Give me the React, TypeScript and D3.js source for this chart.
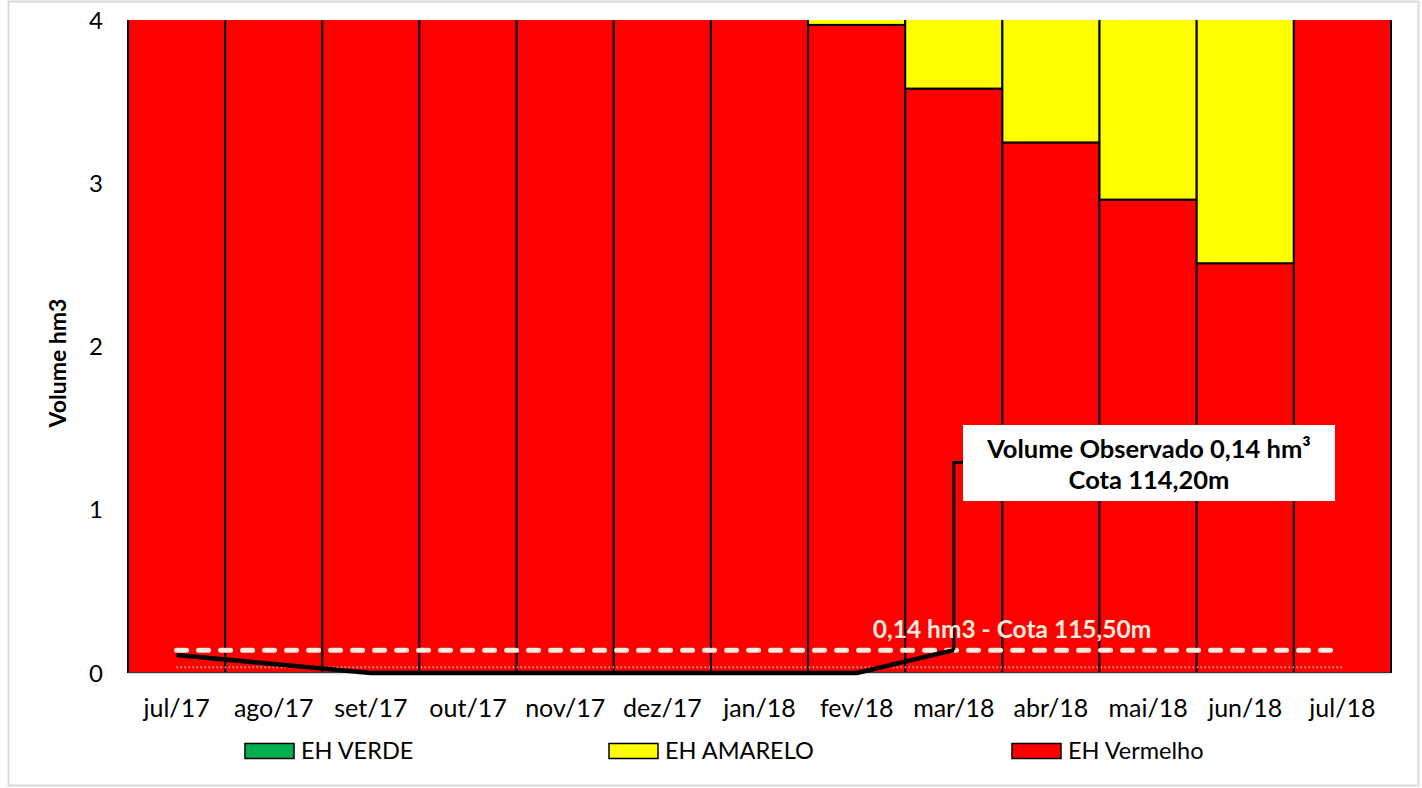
import React from "react";
import * as d3 from "d3";

const categories = ["jul/17","ago/17","set/17","out/17","nov/17","dez/17","jan/18","fev/18","mar/18","abr/18","mai/18","jun/18","jul/18"];
const ehVerde = [0,0,0,0,0,0,0,0,0,0,0,0,0];
const ehVermelho = [4.6,4.6,4.6,4.6,4.6,4.6,4.6,3.97,3.58,3.25,2.9,2.51,4.6];
const ehAmarelo = [0,0,0,0,0,0,0,0.6,1.0,1.35,1.7,2.1,0];
const volumeObservado = [0.11,0.055,0,0,0,0,0,0,0.14];
const volumeReferencia = 0.14;
const volumeMinimo = 0.035;
const yTicks = [0,1,2,3,4];
const legendItems = ["EH VERDE","EH AMARELO","EH Vermelho"];
const annotationValue = 1.29;

const FONT = "Lato, 'Open Sans', sans-serif";

export default function App() {
  const W = 1422, H = 788;
  const left = 128, right = 1391, top = 20, bottom = 673;
  const x = d3.scaleBand<string>().domain(categories).range([left, right]).padding(0);
  const y = d3.scaleLinear().domain([0, 4]).range([bottom, top]);
  const cx = (i: number) => (x(categories[i]) as number) + x.bandwidth() / 2;

  const stacks = categories.map((c, i) => {
    const segs: { y0: number; y1: number; color: string }[] = [];
    let acc = 0;
    const add = (v: number, color: string) => {
      if (v > 0) segs.push({ y0: acc, y1: acc + v, color });
      acc += v;
    };
    add(ehVermelho[i], "#FF0000");
    add(ehAmarelo[i], "#FFFF00");
    add(ehVerde[i], "#00B050");
    return segs;
  });

  const line = d3.line<number>().x((_, i) => cx(i)).y((d) => y(d));
  const first = cx(0), last = cx(categories.length - 1);
  const mi = volumeObservado.length - 1;
  const legendColors = ["#00B050", "#FFFF00", "#FF0000"];
  const legendX = [245, 609, 1012];

  return (
    <svg width={W} height={H} style={{ position: "absolute", left: 0, top: 0, background: "#fff" }} fontFamily={FONT}>
      <rect x={8.5} y={1.5} width={1410} height={784} fill="#fff" stroke="#d9d9d9" strokeWidth={2} />
      <defs>
        <clipPath id="plotclip">
          <rect x={left - 1.5} y={top} width={right - left + 3} height={bottom - top} />
        </clipPath>
      </defs>
      <g clipPath="url(#plotclip)">
        {stacks.map((segs, i) =>
          segs.map((s, j) => (
            <rect key={i + "-" + j} x={x(categories[i])} y={y(s.y1)} width={x.bandwidth()} height={y(s.y0) - y(s.y1)}
              fill={s.color} stroke="#000" strokeWidth={2} />
          ))
        )}
      </g>
      <line x1={left} x2={right} y1={bottom + 0.5} y2={bottom + 0.5} stroke="#d9d9d9" strokeWidth={1.5} />
      <line x1={first} x2={last} y1={y(volumeMinimo)} y2={y(volumeMinimo)} stroke="#c4a4a4" strokeWidth={2} strokeDasharray="1.5 2.5" />
      <line x1={first} x2={last} y1={y(volumeReferencia)} y2={y(volumeReferencia)} stroke="#FCEBDF" strokeWidth={5} strokeDasharray="10 12" strokeLinecap="round" />
      <path d={line(volumeObservado) || ""} fill="none" stroke="#000" strokeWidth={4.5} strokeLinejoin="round" />
      <polyline points={`${cx(mi)},${y(volumeObservado[mi])} ${cx(mi)},${y(annotationValue)} 963,${y(annotationValue)}`} fill="none" stroke="#000" strokeWidth={3} />
      <text x={1012} y={638} fill="#FCEBDF" fontSize={24.5} fontWeight="bold" textAnchor="middle">0,14 hm3 - Cota 115,50m</text>
      <rect x={963} y={425} width={372} height={76} fill="#fff" />
      <text x={1149} y={458} fontSize={25.5} fontWeight="bold" textAnchor="middle" fill="#000">Volume Observado 0,14 hm³</text>
      <text x={1149} y={489} fontSize={25.5} fontWeight="bold" textAnchor="middle" fill="#000">Cota 114,20m</text>
      {yTicks.map((t) => (
        <text key={t} x={103} y={y(t) + 8.5} fontSize={24} textAnchor="end" fill="#000">{t}</text>
      ))}
      <text transform={`translate(66,363) rotate(-90)`} fontSize={23} fontWeight="bold" textAnchor="middle" fill="#000">Volume hm3</text>
      {categories.map((c, i) => (
        <text key={c} x={cx(i)} y={717} fontSize={25} textAnchor="middle" fill="#000">{c}</text>
      ))}
      {legendItems.map((l, i) => (
        <g key={l}>
          <rect x={legendX[i]} y={743.5} width={49} height={15} fill={legendColors[i]} stroke="#000" strokeWidth={1.5} />
          <text x={legendX[i] + 56} y={758.5} fontSize={23.5} fill="#000">{l}</text>
        </g>
      ))}
    </svg>
  );
}
